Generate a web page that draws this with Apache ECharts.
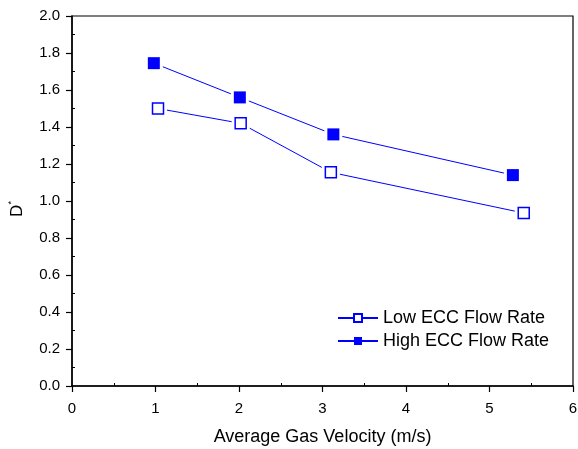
<!DOCTYPE html>
<html>
<head>
<meta charset="utf-8">
<script src="https://cdn.jsdelivr.net/npm/echarts@6/dist/echarts.min.js"></script>
<style>html,body{margin:0;padding:0;background:#fff}#c{width:578px;height:449px}</style>
</head>
<body>
<div id="c"></div>
<script>
// ---- data ----
const lowName = 'Low ECC Flow Rate';
const highName = 'High ECC Flow Rate';
const lowX = [1.03, 2.02, 3.10, 5.41];
const lowY = [1.50, 1.42, 1.155, 0.935];
const highX = [0.98, 2.01, 3.13, 5.28];
const highY = [1.745, 1.56, 1.36, 1.14];
const xTicks = [0, 1, 2, 3, 4, 5, 6];
const yTicks = [0.0, 0.2, 0.4, 0.6, 0.8, 1.0, 1.2, 1.4, 1.6, 1.8, 2.0];
const xMinorTicks = [0.5, 1.5, 2.5, 3.5, 4.5, 5.5];
const yMinorTicks = [0.1, 0.3, 0.5, 0.7, 0.9, 1.1, 1.3, 1.5, 1.7, 1.9];

const pairs = (xs, ys) => xs.map((x, i) => [x, ys[i]]);
const lowData = pairs(lowX, lowY);
const highData = pairs(highX, highY);

const FONT = 'Liberation Sans, Arial, sans-serif';
const BLUE = '#0000ff';

const chart = echarts.init(document.getElementById('c'), null, {renderer: 'canvas'});
chart.setOption({
  animation: false,
  backgroundColor: '#fff',
  grid: {left: 72, right: 5, top: 16, bottom: 63, show: true, borderColor: '#000', borderWidth: 1.2,
    backgroundColor: 'transparent', containLabel: false, outerBoundsMode: 'none'},
  legend: {
    orient: 'vertical', left: 337, top: 309, itemGap: 5, padding: 0,
    itemWidth: 40, itemHeight: 10,
    data: [lowName, highName],
    textStyle: {fontFamily: FONT, fontSize: 18, color: '#000'}
  },
  xAxis: [{
    type: 'value', min: 0, max: 6, interval: 1,
    axisLine: {show: true, lineStyle: {color: '#000', width: 1.5}},
    axisTick: {show: true, length: 6, lineStyle: {color: '#000', width: 1.2}, customValues: xTicks},
    axisLabel: {fontFamily: FONT, fontSize: 15, color: '#000', margin: 15, customValues: xTicks},
    splitLine: {show: false},
    name: 'Average Gas Velocity (m/s)', nameLocation: 'middle', nameGap: 42,
    nameTextStyle: {fontFamily: FONT, fontSize: 18, color: '#000'}
  }, {
    type: 'value', min: 0, max: 6, position: 'bottom',
    axisLine: {show: false},
    axisTick: {show: true, inside: true, length: 3, lineStyle: {color: '#000', width: 1}, customValues: xMinorTicks},
    axisLabel: {show: false}, splitLine: {show: false}
  }],
  yAxis: [{
    type: 'value', min: 0, max: 2, interval: 0.2,
    axisLine: {show: true, lineStyle: {color: '#000', width: 1.5}},
    axisTick: {show: true, length: 6, lineStyle: {color: '#000', width: 1.2}, customValues: yTicks},
    axisLabel: {fontFamily: FONT, fontSize: 15, color: '#000', margin: 12,
      customValues: yTicks, formatter: v => v.toFixed(1)},
    splitLine: {show: false},
    name: '{d|D}{s|*}', nameLocation: 'middle', nameGap: 45,
    nameTextStyle: {
      padding: [0, 16, 0, 0],
      rich: {
        d: {fontFamily: FONT, fontSize: 17, color: '#000', lineHeight: 20},
        s: {fontFamily: FONT, fontSize: 9, color: '#000', verticalAlign: 'top', lineHeight: 20}
      }
    }
  }, {
    type: 'value', min: 0, max: 2, position: 'left',
    axisLine: {show: false},
    axisTick: {show: true, inside: true, length: 3, lineStyle: {color: '#000', width: 1}, customValues: yMinorTicks},
    axisLabel: {show: false}, splitLine: {show: false}
  }],
  series: [
    {
      name: lowName, type: 'line', data: lowData, z: 1,
      showSymbol: false, symbol: 'rect', symbolSize: 10,
      itemStyle: {color: '#fff', borderColor: BLUE, borderWidth: 1.2},
      lineStyle: {color: BLUE, width: 1}
    },
    {
      name: highName, type: 'line', data: highData, z: 1,
      showSymbol: false, symbol: 'rect', symbolSize: 10,
      itemStyle: {color: BLUE, borderColor: BLUE, borderWidth: 0},
      lineStyle: {color: BLUE, width: 1}
    },
    {
      name: 'maskLow', type: 'scatter', data: lowData, z: 2,
      symbol: 'rect', symbolSize: 18, itemStyle: {color: '#fff', opacity: 1}, silent: true
    },
    {
      name: 'maskHigh', type: 'scatter', data: highData, z: 2,
      symbol: 'rect', symbolSize: 18, itemStyle: {color: '#fff', opacity: 1}, silent: true
    },
    {
      name: lowName, type: 'scatter', data: lowData, z: 3,
      symbol: 'rect', symbolSize: 11,
      itemStyle: {color: '#fff', borderColor: BLUE, borderWidth: 1.5, opacity: 1}
    },
    {
      name: highName, type: 'scatter', data: highData, z: 3,
      symbol: 'rect', symbolSize: 12,
      itemStyle: {color: BLUE, opacity: 1}
    }
  ]
});
</script>
</body>
</html>
